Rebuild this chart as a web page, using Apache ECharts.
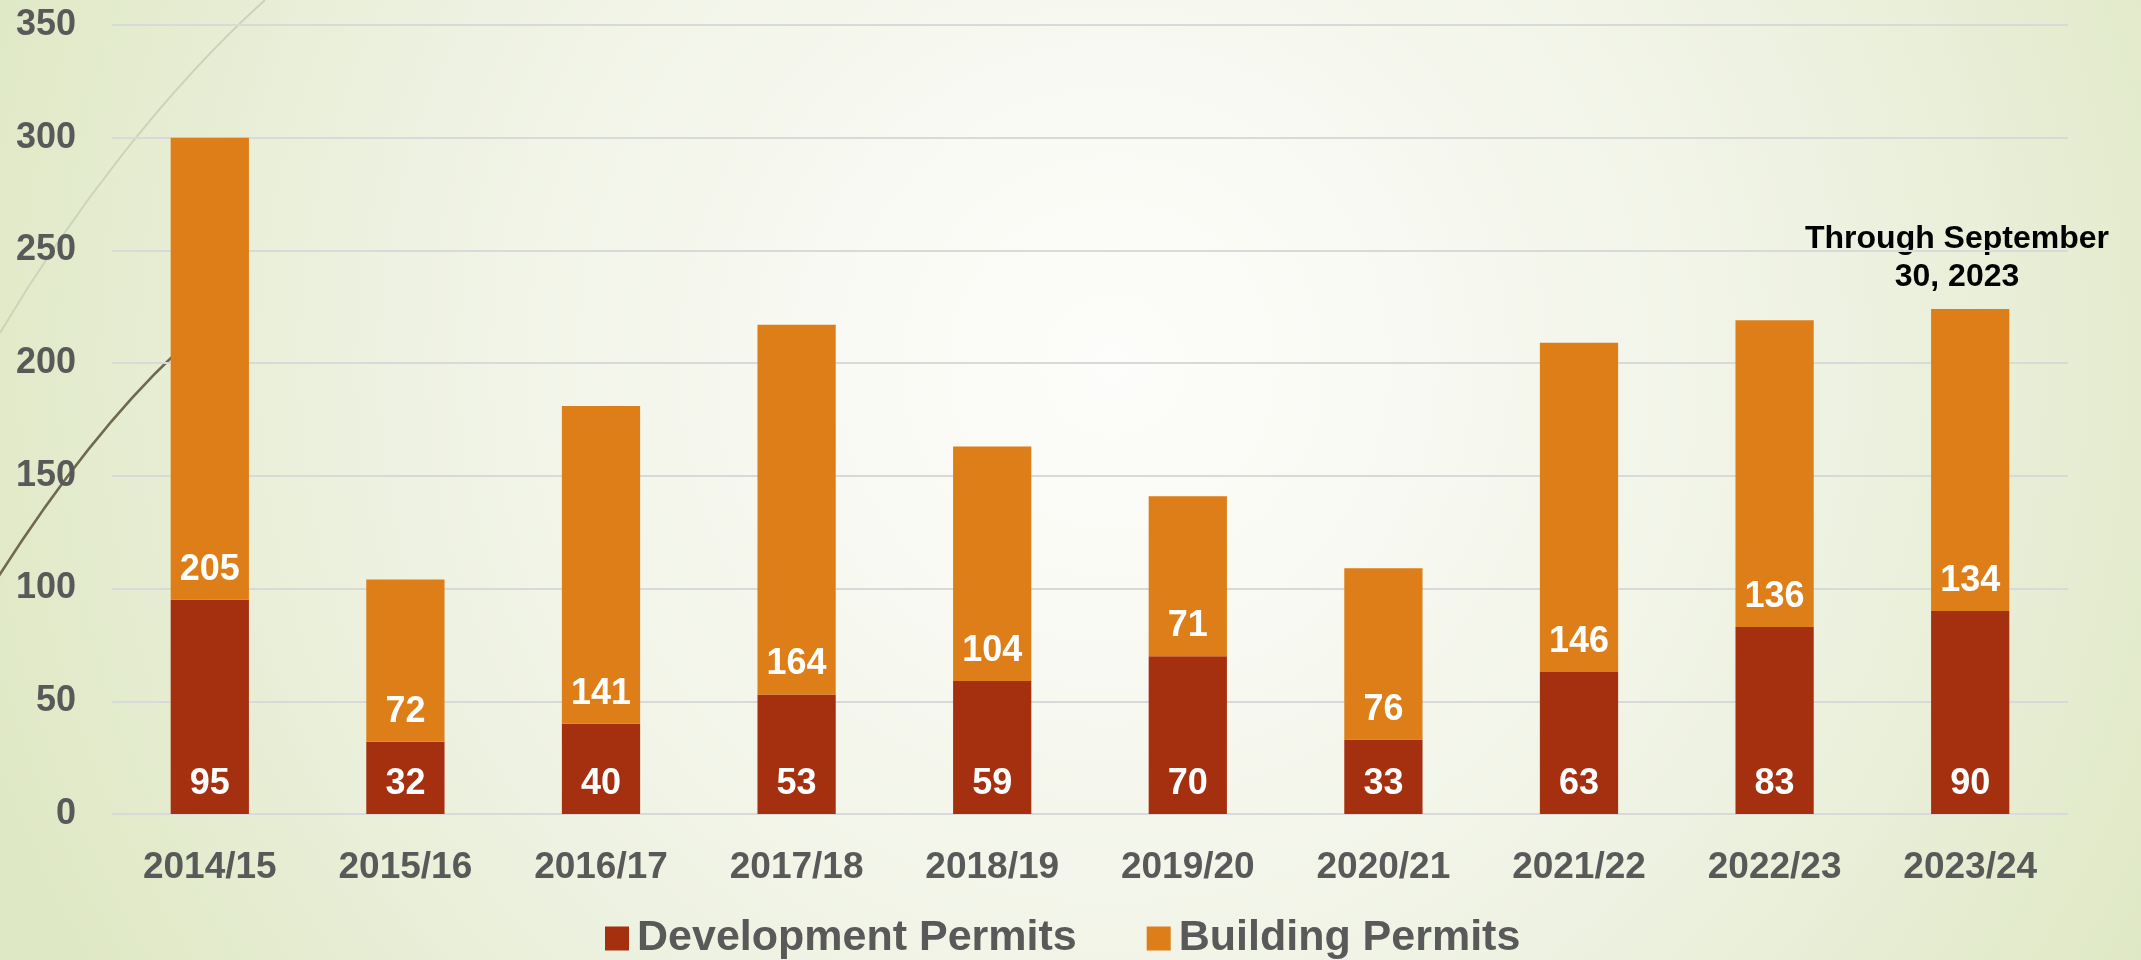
<!DOCTYPE html>
<html>
<head>
<meta charset="utf-8">
<script src="https://cdn.jsdelivr.net/npm/echarts@6/dist/echarts.min.js"></script>
<style>
html,body{margin:0;padding:0;}
#chart{width:2141px;height:960px;}
</style>
</head>
<body>
<div id="chart"></div>
<script>
const categories = ['2014/15','2015/16','2016/17','2017/18','2018/19','2019/20','2020/21','2021/22','2022/23','2023/24'];
const developmentPermits = [95, 32, 40, 53, 59, 70, 33, 63, 83, 90];
const buildingPermits = [205, 72, 141, 164, 104, 71, 76, 146, 136, 134];
const seriesNames = ['Development Permits', 'Building Permits'];
const yTicks = {min: 0, max: 350, interval: 50};
const noteText = 'Through September\n30, 2023';

const FONT = "'Liberation Sans', Arial, sans-serif";
const chart = echarts.init(document.getElementById('chart'));

const labelStyle = {
  show: true,
  position: 'insideBottom',
  distance: 12,
  color: '#ffffff',
  fontFamily: FONT,
  fontWeight: 'bold',
  fontSize: 36
};

chart.setOption({
  animation: false,
  backgroundColor: {
    type: 'radial', x: 0.52, y: 0.38, r: 1.25,
    colorStops: [
      {offset: 0, color: '#fdfdfb'},
      {offset: 0.25, color: '#f8f9f2'},
      {offset: 0.6, color: '#eef2e2'},
      {offset: 1, color: '#dfe8c4'}
    ]
  },
  graphic: [
    {
      type: 'bezierCurve', z: -10, silent: true,
      shape: {x1: 0, y1: 333, cpx1: 70, cpy1: 215, cpx2: 165, cpy2: 90, x2: 265, y2: 0},
      style: {stroke: '#cdd3bb', lineWidth: 2, fill: null}
    },
    {
      type: 'bezierCurve', z: -10, silent: true,
      shape: {x1: -10, y1: 590, cpx1: 40, cpy1: 510, cpx2: 105, cpy2: 420, x2: 176, y2: 353},
      style: {stroke: '#6f6a4d', lineWidth: 2.5, fill: null}
    },
    {
      type: 'text', silent: true,
      style: {
        text: noteText, fill: '#000000', font: "bold 32px " + FONT,
        align: 'center', verticalAlign: 'middle', lineHeight: 38
      },
      position: [1957, 258]
    }
  ],
  grid: {left: 112, right: 73, top: 25, bottom: 146, containLabel: false},
  legend: {
    data: seriesNames,
    left: 605, top: 917,
    itemWidth: 24, itemHeight: 24, itemGap: 70,
    icon: 'rect',
    padding: 0,
    textStyle: {color: '#595959', fontFamily: FONT, fontWeight: 'bold', fontSize: 43, padding: [0,0,0,3]}
  },
  xAxis: {
    type: 'category',
    data: categories,
    axisTick: {show: false},
    axisLine: {show: false},
    axisLabel: {color: '#595959', fontFamily: FONT, fontWeight: 'bold', fontSize: 37, margin: 35}
  },
  yAxis: {
    type: 'value',
    min: yTicks.min, max: yTicks.max, interval: yTicks.interval,
    axisLine: {show: false},
    axisTick: {show: false},
    axisLabel: {color: '#595959', fontFamily: FONT, fontWeight: 'bold', fontSize: 36, margin: 36},
    splitLine: {lineStyle: {color: '#d9d9d9', width: 2}}
  },
  series: [
    {
      name: seriesNames[0], type: 'bar', stack: 'total', barWidth: '40%',
      data: developmentPermits,
      itemStyle: {color: '#a5300f'},
      label: labelStyle
    },
    {
      name: seriesNames[1], type: 'bar', stack: 'total', barWidth: '40%',
      data: buildingPermits,
      itemStyle: {color: '#dd7e19'},
      label: labelStyle
    }
  ]
});
</script>
</body>
</html>
